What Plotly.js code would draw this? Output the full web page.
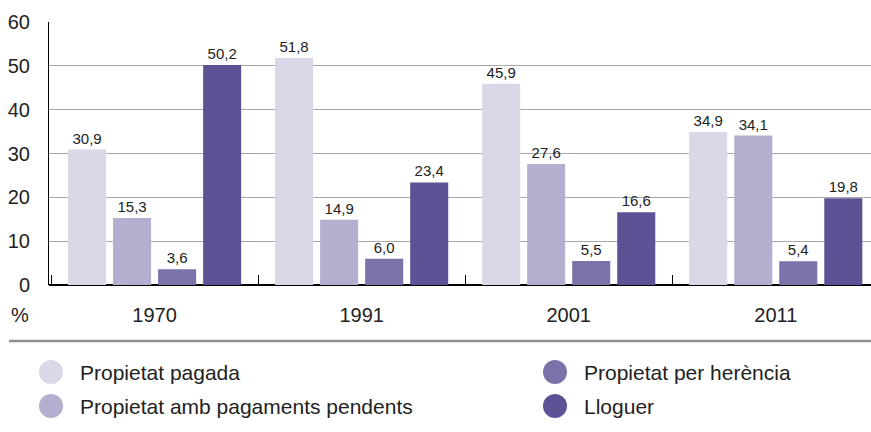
<!DOCTYPE html>
<html>
<head>
<meta charset="utf-8">
<script src="https://cdn.plot.ly/plotly-3.0.1.min.js"></script>
<style>html,body{margin:0;padding:0;background:#fff;}#chart{width:871px;height:432px;}</style>
</head>
<body>
<div id="chart"></div>
<script>
const years = ['1970', '1991', '2001', '2011'];
const seriesNames = ['Propietat pagada', 'Propietat amb pagaments pendents', 'Propietat per herència', 'Lloguer'];
const pagada = [30.9, 51.8, 45.9, 34.9];
const ambPagaments = [15.3, 14.9, 27.6, 34.1];
const herencia = [3.6, 6.0, 5.5, 5.4];
const lloguer = [50.2, 23.4, 16.6, 19.8];
const yTicks = [0, 10, 20, 30, 40, 50, 60];

const colors = ['#dad7e8', '#b2afcf', '#7b72aa', '#5c5396'];
const values = [pagada, ambPagaments, herencia, lloguer];
const FONT = 'Liberation Sans, Arial, Helvetica, sans-serif';

const traces = values.map((v, i) => ({
  type: 'bar',
  name: seriesNames[i],
  x: years,
  y: v,
  marker: {color: colors[i], line: {width: 0}},
  texttemplate: '%{y:.1f}',
  textposition: 'outside',
  cliponaxis: false,
  textfont: {family: FONT, size: 15, color: '#222'},
  showlegend: false,
  hoverinfo: 'skip'
}));

// helpers: pixel -> paper coords (plot area x 49..871, y 22..285)
const px = x => (x - 49) / 822;
const py = y => (285 - y) / 263;

// legend (manual, two columns)
const legendPos = [[0, 0], [0, 1], [1, 0], [1, 1]];
const colX = [51, 555];
const rowY = [372, 406];
const shapes = [
  {type: 'line', xref: 'paper', yref: 'paper', x0: px(9), x1: 1, y0: py(341), y1: py(341), line: {color: '#8e8e8e', width: 2.5}}
];
const annotations = [
  {xref: 'paper', yref: 'paper', x: px(20), y: py(315), text: '%', showarrow: false, xanchor: 'center', yanchor: 'middle', font: {family: FONT, size: 20, color: '#222'}}
];
legendPos.forEach((p, i) => {
  const cx = colX[p[0]], cy = rowY[p[1]];
  shapes.push({type: 'circle', xref: 'paper', yref: 'paper',
    x0: px(cx - 12), x1: px(cx + 12),
    y0: py(cy + 12), y1: py(cy - 12),
    fillcolor: colors[i], line: {width: 0}});
  annotations.push({xref: 'paper', yref: 'paper', x: px(cx + 27), y: py(cy),
    text: seriesNames[i], showarrow: false, xanchor: 'left', yanchor: 'middle',
    font: {family: FONT, size: 21, color: '#222'}});
});

const layout = {
  width: 871, height: 432,
  margin: {l: 49, r: 0, t: 22, b: 147, pad: 0},
  paper_bgcolor: '#fff', plot_bgcolor: '#fff',
  separators: ',.',
  barmode: 'group',
  bargap: 0.13,
  bargroupgap: 0.155,
  font: {family: FONT, color: '#222'},
  xaxis: {
    type: 'category',
    range: [-0.51, 3.46],
    tickson: 'boundaries',
    ticks: 'inside', ticklen: 10, tickcolor: '#000', tickwidth: 1,
    showgrid: false, showline: false,
    tickfont: {family: FONT, size: 20, color: '#222'},
    ticklabelstandoff: 16,
    fixedrange: true
  },
  yaxis: {
    range: [0, 60],
    tickvals: yTicks,
    ticktext: yTicks.map(String),
    showgrid: true, gridcolor: '#a8a8a8', gridwidth: 1,
    zeroline: true, zerolinecolor: '#000', zerolinewidth: 1.2,
    showline: true, linecolor: '#000', linewidth: 1,
    ticks: '',
    tickfont: {family: FONT, size: 20, color: '#222'},
    ticklabelstandoff: 14,
    fixedrange: true
  },
  shapes: shapes,
  annotations: annotations,
  showlegend: false
};

Plotly.newPlot('chart', traces, layout, {displayModeBar: false, staticPlot: true});
</script>
</body>
</html>
